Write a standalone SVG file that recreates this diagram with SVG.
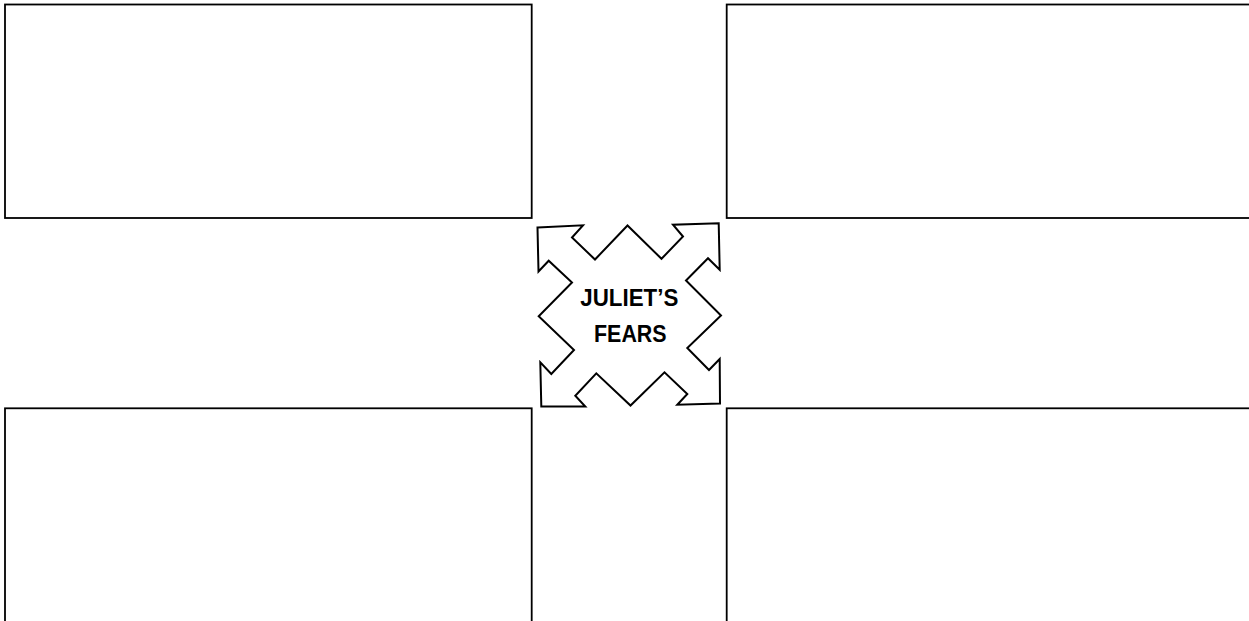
<svg xmlns="http://www.w3.org/2000/svg" width="1249" height="621" viewBox="0 0 1249 621">
<style>
.box{fill:#fff;stroke:#000;stroke-width:1.8}
.arrow{fill:#fff;stroke:#000;stroke-width:2;stroke-linejoin:miter}
.lbl{font-family:"Liberation Sans",Arial,sans-serif;font-weight:bold;font-size:24.5px;fill:#000;text-anchor:middle}
</style>
<rect width="1249" height="621" fill="#fff"/>
<g id="box-top-left"><rect class="box" x="5" y="4.5" width="526.7" height="213.5"/></g>
<g id="box-top-right"><rect class="box" x="726.7" y="4.5" width="540" height="213.5"/></g>
<g id="box-bottom-left"><rect class="box" x="5" y="408.3" width="526.7" height="230"/></g>
<g id="box-bottom-right"><rect class="box" x="726.7" y="408.3" width="540" height="230"/></g>
<g id="center">
<polygon class="arrow" points="537.5,227.5 583,225.3 572,237.5 595,259.5 627.5,225.5 661.5,258.8 683,236.5 673,224.7 718.7,223.3 719.7,269.7 708,258.2 686,280.5 721,315.5 687.3,348 709,370 719.7,359 720,403.5 677.3,404.7 687.3,394 664.5,372.3 630.5,405.5 596.3,373.3 575.3,395.7 585.3,406.5 541.3,406.5 540.3,362.3 551.3,374 574,350 538.7,316.3 572,282.5 548.7,260.7 538.5,271.5"/>
<text class="lbl" x="629.3" y="306" textLength="98" lengthAdjust="spacingAndGlyphs">JULIET’S</text>
<text class="lbl" x="630.3" y="341.7" textLength="72.5" lengthAdjust="spacingAndGlyphs">FEARS</text>
</g>
<g id="connectors"></g>
</svg>
